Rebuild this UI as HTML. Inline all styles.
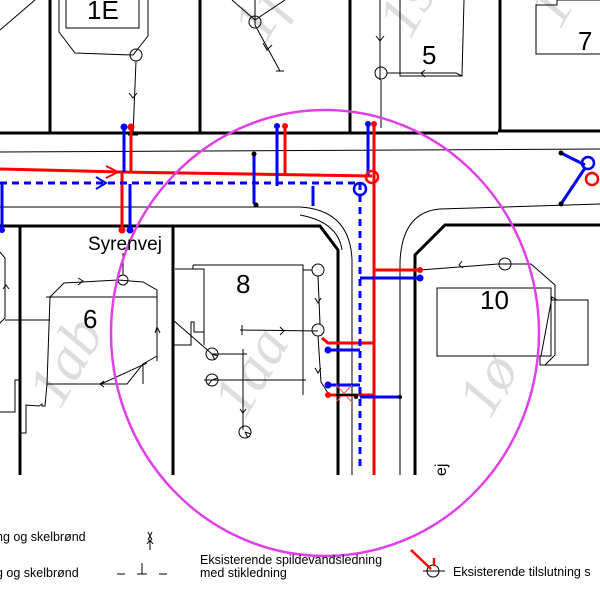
<!DOCTYPE html>
<html><head><meta charset="utf-8"><style>
html,body{margin:0;padding:0;background:#fff;width:600px;height:591px;overflow:hidden}
svg{display:block}
text{font-family:"Liberation Sans",sans-serif}
.wm{font-family:"Liberation Serif",serif;font-style:italic;fill:#ddd;font-size:60px}
</style></head><body>
<svg width="600" height="591" viewBox="0 0 600 591" xmlns="http://www.w3.org/2000/svg">
<text class="wm" transform="translate(60,410) rotate(-60)">1ab</text>
<text class="wm" transform="translate(245,420) rotate(-60)">1aa</text>
<text class="wm" transform="translate(490,420) rotate(-60)">1ø</text>
<text class="wm" transform="translate(265,45) rotate(-60)">1f</text>
<text class="wm" transform="translate(410,40) rotate(-60)">1s</text>
<text class="wm" transform="translate(560,30) rotate(-60)">1t</text>

<g fill="none" stroke="#000">
<path d="M0 133 H498 M498 131 H600" stroke-width="3"/>
<path d="M50 0 V133 M200 0 V133 M350 0 V133 M500 0 V131" stroke-width="3"/>
<path d="M66 0 V28 H139 V0" stroke-width="1"/>
<path d="M59 0 V32 L75 53 L133 55 L148 36 V0" stroke-width="1"/>
<circle cx="136" cy="55" r="6" stroke-width="1"/>
<path d="M136 61 L133 135 M129 93 L133 98 L137 93 M128 135 H138" stroke-width="1"/>
<path d="M0 30 L35 0" stroke-width="1"/>
<path d="M255 0 V25 M232 0 L255 20 L285 0 M255 25 L280 71 M276 71 H284 M263 43 L267 50 L272 45" stroke-width="1"/>
<circle cx="255" cy="22" r="6" stroke-width="1"/>
<path d="M400 0 V76 H462 L464 0" stroke-width="1"/>
<path d="M380 0 V80 M376 36 L380 41 L384 36" stroke-width="1"/>
<circle cx="381" cy="73" r="6" stroke-width="1"/>
<path d="M387 73 L456 73 L462 76 M425 70 L421 73 L425 77 M381 80 V128" stroke-width="1"/>
<path d="M600 0 H557 V5 H536 V54 H600" stroke-width="1"/>
<path d="M0 152 L600 149" stroke-width="1"/>
<path d="M0 207 H300 Q350 210 352 260 V475" stroke-width="1"/>
<path d="M600 204 L440 209 Q402 212 400 262 V475" stroke-width="1"/>
<path d="M300 215 Q338 222 342 250" stroke-width="1"/>
<path d="M20 226 V475 M173 226 V475 M0 226 H320 L338 250 V475" stroke-width="3"/>
<path d="M415 475 V255 L445 225 H600" stroke-width="3"/>
<path d="M0 252 L5 258 V318 L0 323 M5 320 H50 M0 412 H15 V380 H20 M3 289 L6 285 L9 289" stroke-width="1"/>
<path d="M50 297 L64 283 L118 280 L143 282 L157 290 V356 L143 364 L127 384 H47 Z M46 297 H157" stroke-width="1"/>
<path d="M47 384 L45 406 H42 V404 L39 406 L26 405 V433 H20 M157 356 V361 M143 364 V384" stroke-width="1"/>
<path d="M101 384 L147 363 M155 333 L157 327 L160 333 M78 278 L83 281 L78 285 M104 381 L100 384 L104 387" stroke-width="1"/>
<circle cx="123" cy="280" r="5" stroke-width="1"/>
<path d="M123 275 V253" stroke-width="1"/>
<path d="M193 265 H303 V395 M175 269 H204 V345 M193 265 V269" stroke-width="1"/>
<path d="M173 345 H191 V322 H194 V332 H204 M204 380 H306" stroke-width="1"/>
<path d="M173 320 L212 354 M240 330 L318 331 M242 325 V335 M280 327 L284 331 L280 335" stroke-width="1"/>
<path d="M212 354 H247 M243 349 V360 M243 354 V430 M240 409 L243 413 L246 409 M212 380 H243" stroke-width="1"/>
<circle cx="318" cy="270" r="6" stroke-width="1"/>
<circle cx="318" cy="330" r="6" stroke-width="1"/>
<path d="M303 270 H312 M318 276 L320 324 M315 298 L318 303 L321 298 M318 336 L321 382 L328 393 M315 368 L318 373 L321 368" stroke-width="1"/>
<g stroke-width="1">
<circle cx="212" cy="354" r="6"/><path d="M212 354 L218 356 M212 354 L215 360"/>
<circle cx="212" cy="380" r="6"/><path d="M212 380 L218 378 M212 380 L208 385"/>
<circle cx="245" cy="432" r="6"/><path d="M245 432 L251 434 M245 432 L248 438"/>
</g>
<path d="M437 288 H551 V356 H437 Z M552 300 H588 V365 H540 V356" stroke-width="1"/>
<path d="M420 270 L498 264 L531 264 L555 285 V355 L545 365 M541 356 L552 297 L557 300 M462 261 L459 265 L463 268" stroke-width="1"/>
<circle cx="505" cy="264" r="6" stroke-width="1"/>
</g>

<g fill="none" stroke-width="3">
<path d="M0 169 L122 172 L372 176" stroke="#f00"/>
<path d="M106 166 L118 172 L106 178" stroke="#f00" stroke-width="2"/>
<path d="M131 127 V172 M122 172 V230 M285 126 V174 M374 124 V475 M374 270 H420 M322 338 L328 343 H374 M328 395 H374" stroke="#f00"/>
<path d="M0 183 H360 V470" stroke="#00f" stroke-dasharray="7,5"/>
<path d="M96 177 L106 183 L96 189" stroke="#00f" stroke-width="2"/>
<path d="M2 183 V230 M124 127 V172 M130 184 V230 M254 156 V204 M277 126 V186 M313 186 V206 M368 124 V175 M360 278 H420 M328 350 H360 M328 385 H360 M360 397 H400" stroke="#00f"/>
<path d="M561 153 L585 165 M561 204 L585 168" stroke="#00f"/>
</g>
<g stroke-width="2.5" fill="none">
<circle cx="372" cy="177" r="6" stroke="#f00"/>
<circle cx="360" cy="189" r="6" stroke="#00f"/>
<circle cx="588" cy="163" r="6" stroke="#00f"/>
<circle cx="592" cy="179" r="6" stroke="#f00"/>
</g>
<g fill="#00f"><circle cx="124" cy="127" r="3.5"/><circle cx="130" cy="230" r="3.5"/><circle cx="277" cy="126" r="3"/><circle cx="368" cy="124" r="3"/><circle cx="420" cy="278" r="3.5"/><circle cx="328" cy="350" r="3.5"/><circle cx="328" cy="385" r="3.5"/><circle cx="2" cy="230" r="3"/></g>
<g fill="#f00"><circle cx="131" cy="127" r="3.5"/><circle cx="122" cy="230" r="3.5"/><circle cx="285" cy="126" r="3"/><circle cx="374" cy="124" r="3"/><circle cx="420" cy="270" r="3"/><circle cx="328" cy="395" r="3"/></g>
<g fill="#000"><circle cx="254" cy="154" r="2.5"/><circle cx="256" cy="205" r="2.5"/><circle cx="561" cy="153" r="2.5"/><circle cx="561" cy="204" r="2.5"/><circle cx="400" cy="397" r="2"/><circle cx="356" cy="397" r="2"/></g>
<path d="M336 385 L352 402 M352 385 L336 402" stroke="#f55" stroke-width="1"/>
<path d="M336 395 H358" stroke="#000" stroke-width="2"/>

<ellipse cx="325" cy="333" rx="214" ry="223" fill="none" stroke="#e040e8" stroke-width="2.5"/>

<g fill="#000">
<text x="88" y="250" font-size="19">Syrenvej</text>
<text x="236" y="293" font-size="26">8</text>
<text x="83" y="328" font-size="26">6</text>
<text x="480" y="309" font-size="26">10</text>
<text x="422" y="64" font-size="26">5</text>
<text x="578" y="50" font-size="26">7</text>
<text x="87" y="19" font-size="26">1E</text>
<text transform="translate(446,476) rotate(-90)" font-size="16">ej</text>
<text x="-4" y="541" font-size="12.5">ng og skelbrønd</text>
<text x="-4" y="577" font-size="12.5">g og skelbrønd</text>
<text x="200" y="564" font-size="12.5">Eksisterende spildevandsledning</text>
<text x="200" y="577" font-size="12.5">med stikledning</text>
<text x="453" y="576" font-size="12.5">Eksisterende tilslutning s</text>
</g>
<g fill="none" stroke="#000" stroke-width="1">
<path d="M148 532 L152 540 M152 532 L148 540 M150 540 V550 M147 544 L150 540 L153 544"/>
<path d="M117 574 H125 M138 574 H146 M159 574 H167 M142 563 V574 M137 574 H147"/>
<circle cx="433" cy="571" r="6"/><path d="M423 571 H445"/>
</g>
<path d="M411 550 L431 569 M434 558 V566" stroke="#f00" stroke-width="2.5"/>
</svg>
</body></html>
